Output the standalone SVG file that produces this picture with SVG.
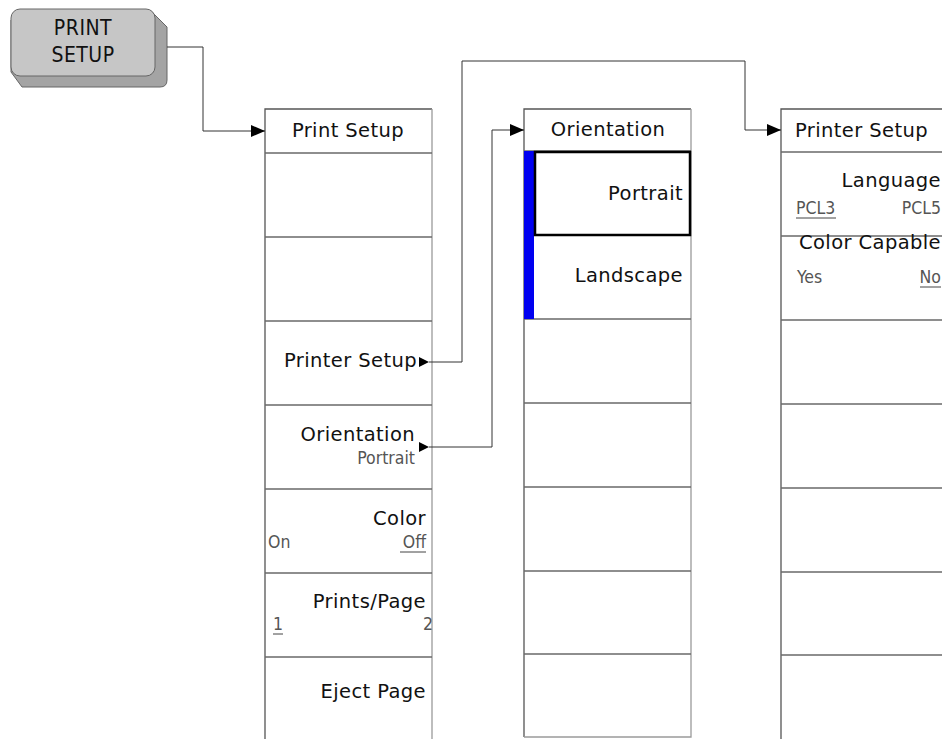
<svg xmlns="http://www.w3.org/2000/svg" width="942" height="739" viewBox="0 0 942 739">
<style>
.bg{fill:#fff}
.edge{stroke:#555;stroke-width:1.3;fill:none}
.redge{stroke:#9a9a9a;stroke-width:1.3;fill:none}
.sep{stroke:#6a6a6a;stroke-width:1.3;fill:none}
.wire{stroke:#333;stroke-width:1;fill:none}
.t{font-family:"DejaVu Sans",sans-serif;font-size:19.5px;fill:#111;letter-spacing:0.4px}
.s{font-family:"DejaVu Sans Condensed","Liberation Sans Narrow","Liberation Sans",sans-serif;font-size:17.5px;fill:#555}
.u{stroke:#444;stroke-width:1}
.key{font-family:"DejaVu Sans Condensed","DejaVu Sans",sans-serif;font-size:21px;fill:#111;letter-spacing:0.5px}
</style>
<defs>
<marker id="ah" markerWidth="14" markerHeight="12" refX="14" refY="6" orient="auto" markerUnits="userSpaceOnUse">
<path d="M0,0 L14,6 L0,12 Z" fill="#000"/>
</marker>
</defs>
<rect class="bg" x="0" y="0" width="942" height="739"/>

<g id="print-setup-key">
<path d="M152,12 L167,27 L167,80 Q167,87 160,87 L22,87 L11,72 L11,20 Z" fill="#a4a4a4" stroke="#666" stroke-width="1"/>
<rect x="11" y="9" width="144" height="67" rx="9" ry="9" fill="#c6c6c6" stroke="#666" stroke-width="1"/>
<text class="key" x="83" y="35" text-anchor="middle">PRINT</text>
<text class="key" x="83" y="62" text-anchor="middle">SETUP</text>
</g>

<g id="menu-print-setup">
<path class="edge" d="M265,739 L265,109 L432,109"/>
<path class="redge" d="M432,109 L432,739"/>
<path class="sep" d="M265,153 H432 M265,237 H432 M265,321 H432 M265,405 H432 M265,489 H432 M265,573 H432 M265,657 H432"/>
<text class="t" x="348" y="137" text-anchor="middle">Print Setup</text>
<text class="t" x="417" y="367" text-anchor="end">Printer Setup</text>
<path d="M419,357 L429,362 L419,367 Z" fill="#000"/>
<text class="t" x="415" y="441" text-anchor="end">Orientation</text>
<text class="s" x="415" y="464" text-anchor="end">Portrait</text>
<path d="M419,442 L429,447 L419,452 Z" fill="#000"/>
<text class="t" x="426" y="525" text-anchor="end">Color</text>
<text class="s" x="268" y="548">On</text>
<text class="s" x="426" y="548" text-anchor="end">Off</text>
<line class="u" x1="400" y1="552" x2="426" y2="552"/>
<text class="t" x="426" y="608" text-anchor="end">Prints/Page</text>
<text class="s" x="273" y="630">1</text>
<line class="u" x1="273" y1="634" x2="283" y2="634"/>
<text class="s" x="433" y="630" text-anchor="end">2</text>
<text class="t" x="426" y="698" text-anchor="end">Eject Page</text>
</g>

<g id="menu-orientation">
<path class="edge" d="M524,737 L524,109 L691,109"/>
<path class="redge" d="M691,109 L691,737 L524,737"/>
<path class="sep" d="M524,151 H691 M524,319 H691 M524,403 H691 M524,487 H691 M524,571 H691 M524,654 H691"/>
<rect x="524" y="151" width="10" height="168" fill="#0000f0"/>
<rect x="535" y="152" width="155" height="83" fill="none" stroke="#000" stroke-width="2.5"/>
<text class="t" x="608" y="136" text-anchor="middle">Orientation</text>
<text class="t" x="683" y="200" text-anchor="end">Portrait</text>
<text class="t" x="683" y="282" text-anchor="end">Landscape</text>
</g>

<g id="menu-printer-setup">
<path class="edge" d="M781,739 L781,109 L942,109"/>
<path class="sep" d="M781,152 H942 M781,236 H942 M781,320 H942 M781,404 H942 M781,488 H942 M781,572 H942 M781,655 H942"/>
<text class="t" x="795" y="137">Printer Setup</text>
<text class="t" x="941" y="187" text-anchor="end">Language</text>
<text class="s" x="796" y="214">PCL3</text>
<line class="u" x1="796" y1="218" x2="836" y2="218"/>
<text class="s" x="941" y="214" text-anchor="end">PCL5</text>
<text class="t" x="941" y="249" text-anchor="end">Color Capable</text>
<text class="s" x="797" y="283">Yes</text>
<text class="s" x="941" y="283" text-anchor="end">No</text>
<line class="u" x1="920" y1="287" x2="941" y2="287"/>
</g>

<g id="connectors">
<path class="wire" d="M167,47 H203 V131 H265" marker-end="url(#ah)"/>
<path class="wire" d="M429,362 H462 V61 H745 V130 H781" marker-end="url(#ah)"/>
<path class="wire" d="M429,447 H492 V130 H524" marker-end="url(#ah)"/>
</g>
</svg>
